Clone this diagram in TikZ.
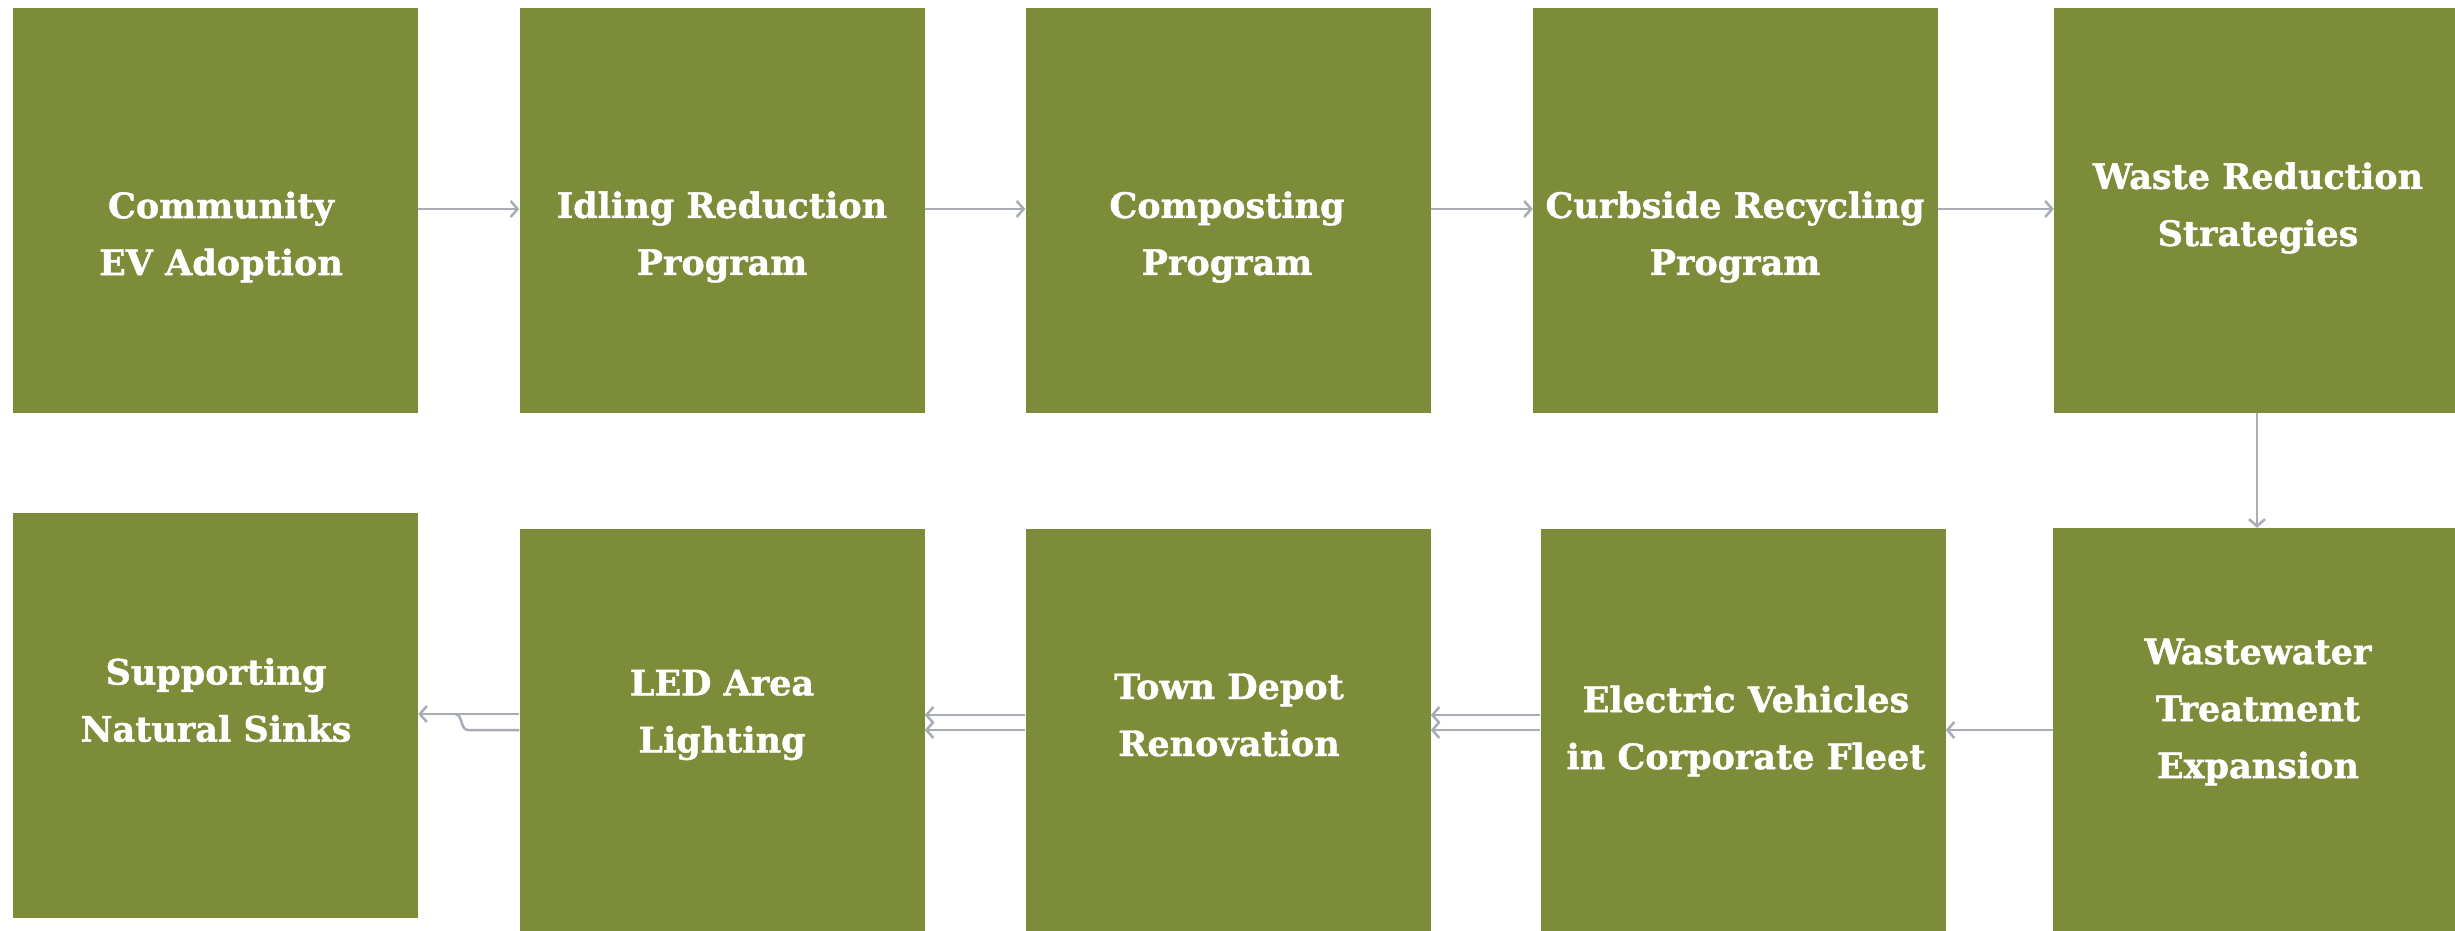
\documentclass[tikz,border=0pt]{standalone}
\usepackage{fontspec}
\setmainfont{DejaVu Serif}[BoldFeatures={FakeBold=1.2}]
\usetikzlibrary{arrows.meta}
\definecolor{olive}{HTML}{7C8C38}
\definecolor{conn}{HTML}{A8ACB4}
\begin{document}
\begin{tikzpicture}[x=1pt,y=-1pt,
  box/.style={fill=olive,draw=none,minimum width=405pt,minimum height=405pt,inner sep=0pt},
  txt/.style={text=white,font=\fontsize{35}{57}\selectfont\bfseries,align=center,inner sep=0pt},
  arr/.style={draw=conn,line width=2.5pt,-{Straight Barb[length=7pt,width=16pt,line width=2.5pt]}},
  ln/.style={draw=conn,line width=2.5pt}]
\clip (0,0) rectangle (2455,930);
\fill[white] (0,0) rectangle (2455,930);
% row 1
\node[box] (b1) at (215.5,210) {};
\node[box] (b2) at (722,210) {};
\node[box] (b3) at (1228,210) {};
\node[box] (b4) at (1735.5,210) {};
\node[box] (b5) at (2256.5,210) {};
% row 2
\node[box] (c1) at (215.5,715.5) {};
\node[box] (c2) at (722,731.5) {};
\node[box] (c3) at (1228,731.5) {};
\node[box] (c4) at (1743,731.5) {};
\node[box] (c5) at (2255.5,730.5) {};
% texts
\node[txt] (t1) at (221,237) {Community\\EV Adoption};
\node[txt] (t2) at (722,237) {Idling Reduction\\Program};
\node[txt] (t3) at (1227,237) {Composting\\Program};
\node[txt] (t4) at (1735,237) {Curbside Recycling\\Program};
\node[txt] (t5) at (2258,208) {Waste Reduction\\Strategies};
\node[txt] (u5) at (2258,712) {Wastewater\\Treatment\\Expansion};
\node[txt] (u4) at (1746,731) {Electric Vehicles\\in Corporate Fleet};
\node[txt] (u3) at (1229,715) {Town Depot\\Renovation};
\node[txt] (u2) at (722,715) {LED Area\\Lighting};
\node[txt] (u1) at (216,700) {Supporting\\Natural Sinks};
% row 1 connectors
\draw[arr] (b1.east |- 0,209) -- (b2.west |- 0,209);
\draw[arr] (b2.east |- 0,209) -- (b3.west |- 0,209);
\draw[arr] (b3.east |- 0,209) -- (b4.west |- 0,209);
\draw[arr] (b4.east |- 0,209) -- (b5.west |- 0,209);
\draw[arr] (b5.south -| 2257,0) -- (c5.north -| 2257,0);
% row 2 connectors
\draw[arr] (c5.west |- 0,730) -- (c4.east |- 0,730);
\draw[arr] (c4.west |- 0,715) -- (c3.east |- 0,715);
\draw[arr] (c4.west |- 0,730) -- (c3.east |- 0,730);
\draw[arr] (c3.west |- 0,715) -- (c2.east |- 0,715);
\draw[arr] (c3.west |- 0,730) -- (c2.east |- 0,730);
\draw[arr] (c2.west |- 0,714) -- (c1.east |- 0,714);
\coordinate (m) at (468,730);
\draw[ln] (c2.west |- 0,730) -- (m) to[out=180,in=0] (455,714);
\end{tikzpicture}
\end{document}
